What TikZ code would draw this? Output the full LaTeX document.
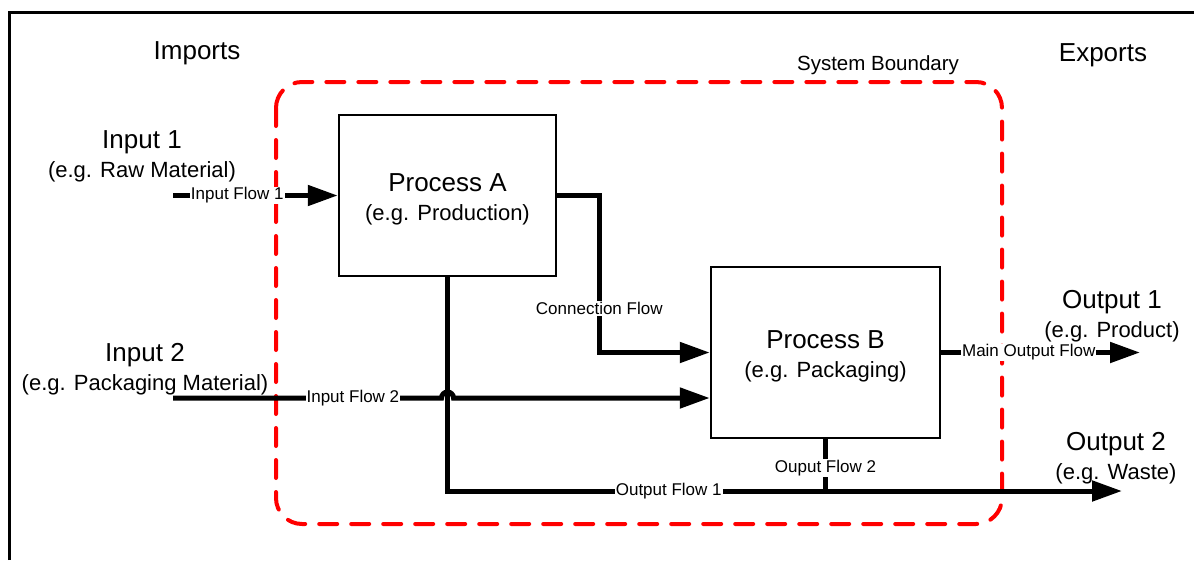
\documentclass[tikz,border=0pt]{standalone}
\usepackage{fontspec}
\setmainfont{Liberation Sans}
\usetikzlibrary{positioning,calc,arrows.meta}
\tikzset{
	flow/.style={line width=5pt, -{Triangle[length=30pt,width=20pt]}},
	plainflow/.style={line width=5pt},
	lbl/.style={fill=white, inner sep=1pt, font=\fontsize{17}{19}\selectfont},
	proc/.style={draw, line width=2.5pt, align=center, font=\fontsize{22}{29}\selectfont},
	side/.style={align=center, font=\fontsize{22}{29}\selectfont},
	heading/.style={font=\fontsize{26}{29}\selectfont},
}

\begin{document}
\begin{tikzpicture}[x=1pt,y=-1pt]
	\useasboundingbox (0,0) rectangle (1194,560);
	\draw[line width=3pt] (9,560) -- (9,12) -- (1194,12);

	% headings
	\node[heading] (imports) at (197,53) {Imports};
	\node[heading] (exports) at (1103,55) {Exports};
	\node[font=\fontsize{20.5}{24}\selectfont] (sysb) at (878,65) {System Boundary};

	% system boundary
	\draw[red, line width=4pt, dash pattern=on 18pt off 14pt, line cap=round, rounded corners=26pt]
		(276,82) rectangle (1002,524);

	% processes
	\node[proc, minimum width=217pt, minimum height=161pt] (procA) at (447.5,195.5)
		{\rule{0pt}{25pt}{\fontsize{26}{29}\selectfont Process A}\\(e.g. Production)};
	\node[proc, minimum width=229pt, minimum height=171pt] (procB) at (825.5,352.5)
		{\rule{0pt}{25pt}{\fontsize{26}{29}\selectfont Process B}\\(e.g. Packaging)};

	% imports and exports
	\node[side] (in1) at (142,156) {{\fontsize{26}{29}\selectfont Input 1}\\(e.g. Raw Material)};
	\node[side] (in2) at (145,369) {{\fontsize{26}{29}\selectfont Input 2}\\(e.g. Packaging Material)};
	\node[side] (out1) at (1112,316) {{\fontsize{26}{29}\selectfont Output 1}\\(e.g. Product)};
	\node[side] (out2) at (1116,458) {{\fontsize{26}{29}\selectfont Output 2}\\(e.g. Waste)};

	\coordinate (s1) at (173,195.5);
	\coordinate (s2) at (173,398);
	\coordinate (e1) at (1140,352.5);
	\coordinate (e2) at (1122,491);

	% flows
	\draw[flow] (s1) -- node[lbl, pos=0.39] {Input Flow 1} (procA.west);
	\draw[flow] (s2) -- node[lbl, pos=0.67] {Input Flow 2} ($(s2 -| procA.south)+(-6,0)$)
		arc[start angle=180, end angle=0, radius=6pt] -- (s2 -| procB.west);
	\draw[flow] (procA.east) -- ++(42,0) |- node[lbl, pos=0.36] {Connection Flow} (procB.west);
	\draw[flow] (procA.south) |- node[lbl, pos=0.664] {Output Flow 1} (e2);
	\draw[plainflow] (procB.south) -- node[lbl, pos=0.55] {Ouput Flow 2} (procB.south |- e2);
	\draw[flow] (procB.east) -- node[lbl, pos=0.44] {Main Output Flow} (e1);
\end{tikzpicture}
\end{document}
